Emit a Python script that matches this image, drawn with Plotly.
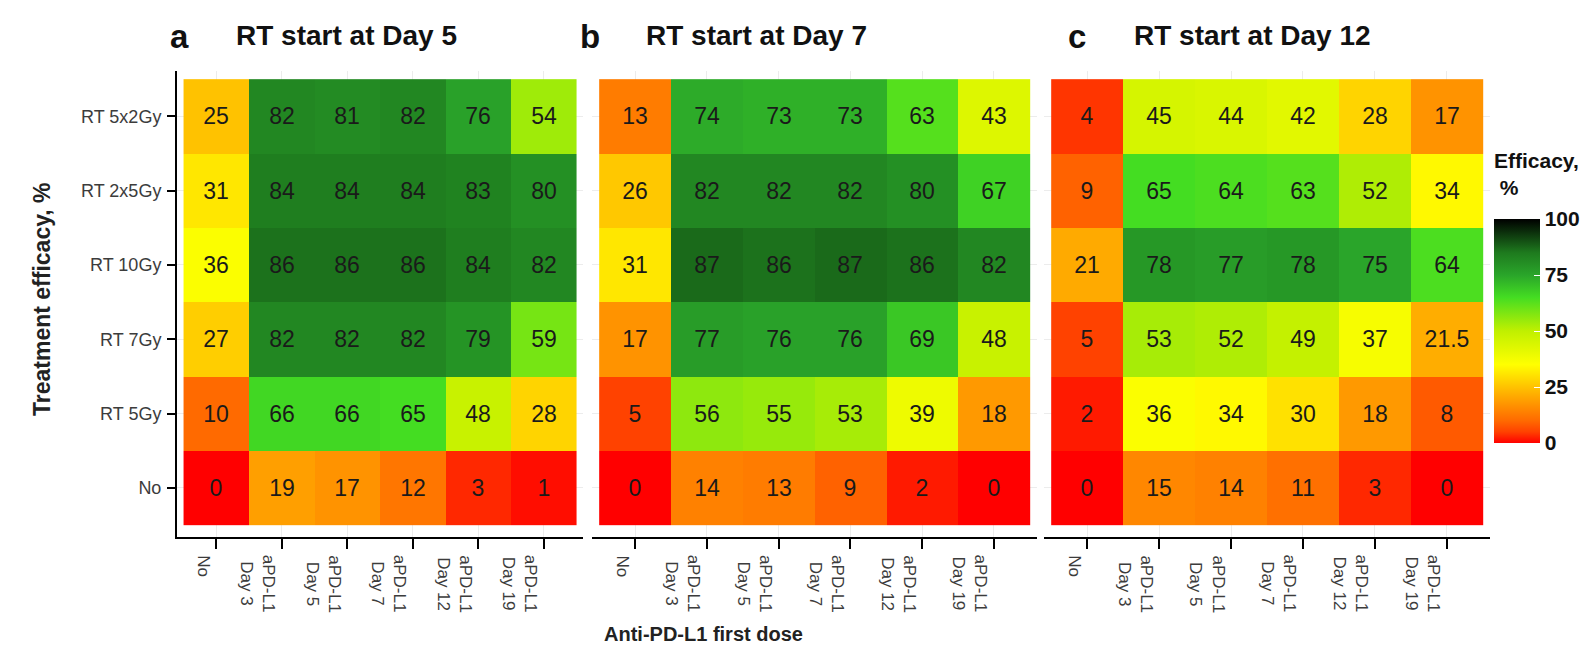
import plotly.graph_objects as go

# ---- data ----
rows = ["No", "RT 5Gy", "RT 7Gy", "RT 10Gy", "RT 2x5Gy", "RT 5x2Gy"]  # bottom -> top
cols = ["No", "aPD-L1<br>Day 3", "aPD-L1<br>Day 5", "aPD-L1<br>Day 7", "aPD-L1<br>Day 12", "aPD-L1<br>Day 19"]

panel_a = [  # rows bottom -> top
    [0, 19, 17, 12, 3, 1],
    [10, 66, 66, 65, 48, 28],
    [27, 82, 82, 82, 79, 59],
    [36, 86, 86, 86, 84, 82],
    [31, 84, 84, 84, 83, 80],
    [25, 82, 81, 82, 76, 54],
]
panel_b = [
    [0, 14, 13, 9, 2, 0],
    [5, 56, 55, 53, 39, 18],
    [17, 77, 76, 76, 69, 48],
    [31, 87, 86, 87, 86, 82],
    [26, 82, 82, 82, 80, 67],
    [13, 74, 73, 73, 63, 43],
]
panel_c = [
    [0, 15, 14, 11, 3, 0],
    [2, 36, 34, 30, 18, 8],
    [5, 53, 52, 49, 37, 21.5],
    [21, 78, 77, 78, 75, 64],
    [9, 65, 64, 63, 52, 34],
    [4, 45, 44, 42, 28, 17],
]
panel_letters = ["a", "b", "c"]
panel_titles = ["RT start at Day 5", "RT start at Day 7", "RT start at Day 12"]
cbar_ticks = [0, 25, 50, 75, 100]

W, H = 1590, 658
colorscale = [
    [0.0, "#ff0000"],
    [0.05, "#ff4200"],
    [0.10, "#ff6a00"],
    [0.22, "#ffb000"],
    [0.35, "#ffff00"],
    [0.50, "#c0f000"],
    [0.65, "#44dd22"],
    [0.75, "#2aa52a"],
    [0.85, "#1e7a1e"],
    [1.0, "#000000"],
]

# pixel layout of panels (axis extents)
panel_px = [(169, 575), (584, 1029), (1036, 1482)]
title_px = [(160, 226), (570, 636), (1058, 1124)]
y_top, y_bot = 63, 529

fig = go.Figure()
font_family = "Liberation Sans, Arial, sans-serif"

for i, (z, (x0, x1)) in enumerate(zip([panel_a, panel_b, panel_c], panel_px)):
    sfx = "" if i == 0 else str(i + 1)
    fig.add_trace(go.Heatmap(
        z=z, x=cols, y=rows,
        xaxis="x" + sfx, yaxis="y" + sfx,
        colorscale=colorscale, zmin=0, zmax=100,
        texttemplate="%{z}",
        textfont=dict(size=23, color="#1a1a1a", family=font_family),
        showscale=(i == 0),
        hoverinfo="skip",
        colorbar=dict(
            tickvals=cbar_ticks,
            ticktext=["<b>%d</b>" % t for t in cbar_ticks],
            tickfont=dict(size=21, color="#111", family=font_family),
            ticks="inside", tickcolor="white", ticklen=6,
            thickness=46, thicknessmode="pixels",
            len=224, lenmode="pixels",
            x=1486 / W, xanchor="left", xpad=0,
            y=1 - 323 / H, yanchor="middle", ypad=0,
            outlinewidth=0,
        ),
    ))
    xa = dict(
        domain=[x0 / W, x1 / W], anchor="y" + sfx,
        type="category", range=[-0.6, 5.6],
        showline=True, linecolor="black", linewidth=2,
        ticks="outside", ticklen=10, tickwidth=2, tickcolor="black",
        showticklabels=False,
        showgrid=True, gridcolor="#ececec", gridwidth=1,
        zeroline=False, fixedrange=True,
    )
    ya = dict(
        domain=[1 - y_bot / H, 1 - y_top / H], anchor="x" + sfx,
        type="category", range=[-0.66, 5.61],
        showgrid=True, gridcolor="#ececec", gridwidth=1,
        zeroline=False, fixedrange=True,
    )
    if i == 0:
        ya.update(showline=True, linecolor="black", linewidth=2,
                  ticks="outside", ticklen=8, tickwidth=2, tickcolor="black",
                  tickfont=dict(size=18, color="#3c3c3c", family=font_family),
                  showticklabels=True, ticklabelstandoff=2)
    else:
        ya.update(showline=False, ticks="", showticklabels=False)
    fig.layout["xaxis" + sfx] = xa
    fig.layout["yaxis" + sfx] = ya

    # rotated x tick labels placed at the category positions
    for c in cols:
        fig.add_annotation(x=c, xref="x" + sfx, y=1 - 545 / H, yref="paper",
                           text=c, textangle=90, showarrow=False,
                           xanchor="right", yanchor="top", xshift=-1, align="center",
                           font=dict(size=17, color="#3c3c3c", family=font_family))

    # panel titles
    lx, tx = title_px[i]
    fig.add_annotation(x=lx / W, y=1 - 29 / H, xref="paper", yref="paper",
                       text="<b>%s</b>" % panel_letters[i], showarrow=False,
                       xanchor="left", yanchor="middle",
                       font=dict(size=33, color="#111", family=font_family))
    fig.add_annotation(x=tx / W, y=1 - 28 / H, xref="paper", yref="paper",
                       text="<b>%s</b>" % panel_titles[i], showarrow=False,
                       xanchor="left", yanchor="middle",
                       font=dict(size=28, color="#111", family=font_family))

# colorbar title
fig.add_annotation(x=1484 / W, y=1 - 139 / H, xref="paper", yref="paper",
                   text="<b>Efficacy,<br> %</b>", showarrow=False, align="left",
                   xanchor="left", yanchor="top",
                   font=dict(size=21, color="#111", family=font_family))

fig.add_annotation(x=695 / W, y=1 - 626 / H, xref="paper", yref="paper",
                   text="<b>Anti-PD-L1 first dose</b>", showarrow=False,
                   xanchor="center", yanchor="middle",
                   font=dict(size=20, color="#222", family=font_family))
fig.add_annotation(x=34 / W, y=1 - 291 / H, xref="paper", yref="paper",
                   text="<b>Treatment efficacy, %</b>", showarrow=False, textangle=-90,
                   xanchor="center", yanchor="middle",
                   font=dict(size=23, color="#222", family=font_family))

fig.update_layout(
    width=W, height=H,
    margin=dict(l=0, r=0, t=0, b=0),
    paper_bgcolor="white", plot_bgcolor="white",
    showlegend=False,
)

fig.write_html("out.html")
